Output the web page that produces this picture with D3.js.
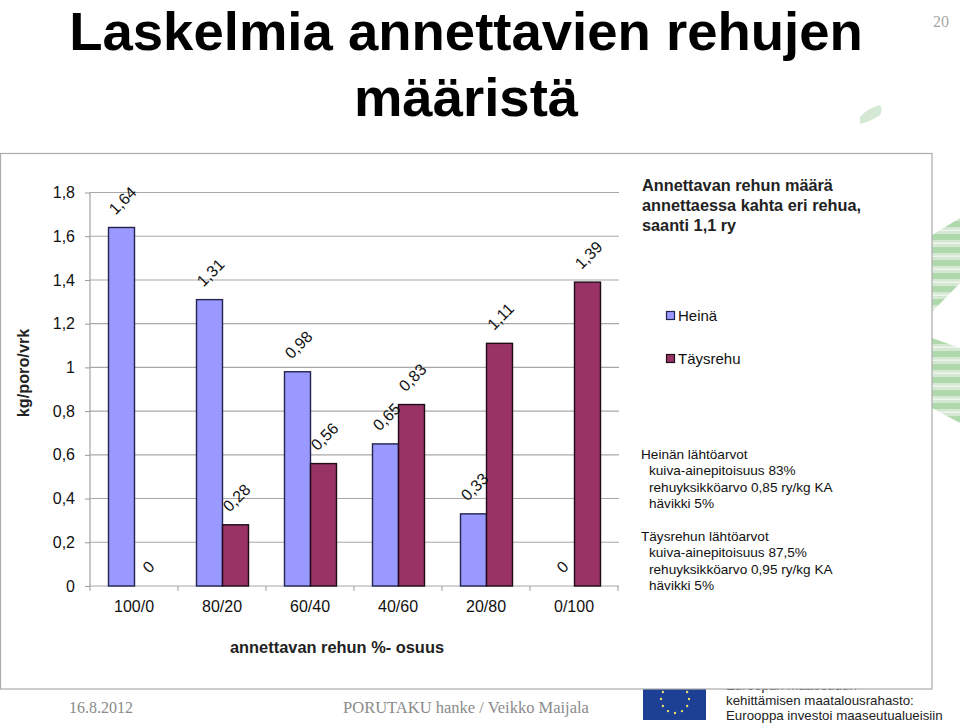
<!DOCTYPE html>
<html><head><meta charset="utf-8">
<script src="https://cdn.jsdelivr.net/npm/d3@7"></script>
<style>html,body{margin:0;padding:0;background:#fff}svg{display:block}text{font-family:"Liberation Sans",Arial,sans-serif}</style>
</head><body><svg id="c" width="960" height="725"></svg>
<script>
const categories=["100/0","80/20","60/40","40/60","20/80","0/100"];
const heina=[1.64,1.31,0.98,0.65,0.33,0];
const taysrehu=[0,0.28,0.56,0.83,1.11,1.39];
const seriesNames=["Heinä","Täysrehu"];
const yTicks=[0,0.2,0.4,0.6,0.8,1,1.2,1.4,1.6,1.8];
const titleLines=["Laskelmia annettavien rehujen","määristä"];
const sideTitle=["Annettavan rehun määrä","annettaessa kahta eri rehua,","saanti 1,1 ry"];
const noteHeina=["Heinän lähtöarvot","kuiva-ainepitoisuus 83%","rehuyksikköarvo 0,85 ry/kg KA","hävikki 5%"];
const noteTays=["Täysrehun lähtöarvot","kuiva-ainepitoisuus 87,5%","rehuyksikköarvo 0,95 ry/kg KA","hävikki 5%"];
const euText=["Euroopan maaseudun","kehittämisen maatalousrahasto:","Eurooppa investoi maaseutualueisiin"];
const colors=["#9999ff","#993366"];
const strokes=["#23234f","#1c0d18"];
const fmt=v=>String(v).replace(".",",");

const svg=d3.select("#c");
const defs=svg.append("defs");
const pat=defs.append("pattern").attr("id","st").attr("patternUnits","userSpaceOnUse").attr("width",10).attr("height",13);
pat.append("rect").attr("width",10).attr("height",13).attr("fill","#d5e8d3");
pat.append("rect").attr("width",10).attr("height",6).attr("fill","#afd8ad");
pat.append("rect").attr("y",8.5).attr("width",10).attr("height",1.5).attr("fill","#eef5ec");

// background decoration
[[[932,235],[960,218],[960,283],[932,312]],[[932,338],[960,348],[960,423],[932,408]]].forEach(p=>
  svg.append("polygon").attr("points",p.join(" ")).attr("fill","url(#st)"));
svg.append("path").attr("d","M860 117Q868 108 880 105Q883 110 880 115Q872 121 860 124Z").attr("fill","#d5e8d3");

// title
svg.append("g").selectAll("text").data(titleLines).join("text")
  .attr("x",466).attr("y",(d,i)=>49.5+i*66.5).attr("text-anchor","middle")
  .attr("font-size",54.5).attr("font-weight","bold").attr("fill","#000").text(d=>d);
svg.append("text").attr("x",941).attr("y",27).attr("text-anchor","middle")
  .style("font-family","'Liberation Serif',serif").attr("font-size",16).attr("fill","#a8a8a8").text("20");

// EU footer
svg.append("rect").attr("x",643).attr("y",685).attr("width",63).attr("height",35).attr("fill","#1d3f94");
d3.range(12).forEach(i=>{const a=i*Math.PI/6;
  svg.append("circle").attr("cx",675+14*Math.cos(a)).attr("cy",699+14*Math.sin(a)).attr("r",1.2).attr("fill","#e8e070");});
svg.append("g").selectAll("text").data(euText).join("text")
  .attr("x",726).attr("y",(d,i)=>689.5+i*15).attr("font-size",13.3).attr("fill","#222").text(d=>d);
svg.append("text").attr("x",69).attr("y",713).style("font-family","'Liberation Serif',serif")
  .attr("font-size",16).attr("fill","#8a8a8a").text("16.8.2012");
svg.append("text").attr("x",466).attr("y",713).attr("text-anchor","middle").style("font-family","'Liberation Serif',serif")
  .attr("font-size",16.5).attr("fill","#8a8a8a").text("PORUTAKU hanke / Veikko Maijala");

// chart frame
svg.append("rect").attr("x",0.5).attr("y",153.5).attr("width",931.5).attr("height",535.5)
  .attr("fill","#fff").attr("stroke","#ababab").attr("stroke-width",1.2);

// scales
const x=d3.scaleBand().domain(categories).range([90,618]);
const inner=d3.scaleBand().domain([0,1]).range([18.5,70.5]);
const y=d3.scaleLinear().domain([0,1.8]).range([586,192.5]);

// grid + y axis
const gy=svg.append("g").attr("transform","translate(90,0)")
  .call(d3.axisLeft(y).tickValues(yTicks).tickSize(5).tickPadding(10).tickFormat(fmt));
gy.select(".domain").attr("stroke","#aaa").attr("stroke-width",1.3).attr("d","M0,192.5V586");
gy.selectAll(".tick line").attr("stroke","#999");
gy.selectAll(".tick text").attr("font-size",16).attr("fill","#111").style("font-family","'Liberation Sans',sans-serif");
svg.append("g").selectAll("line").data(yTicks).join("line")
  .attr("x1",90).attr("x2",619).attr("y1",d=>y(d)).attr("y2",d=>y(d))
  .attr("stroke","#a8a8a8").attr("stroke-width",1.1);

// x axis
const gx=svg.append("g").attr("transform","translate(0,586)")
  .call(d3.axisBottom(x).tickSize(0).tickPadding(15));
gx.select(".domain").remove();
gx.selectAll(".tick text").attr("font-size",16).attr("fill","#111").style("font-family","'Liberation Sans',sans-serif");
svg.append("g").selectAll("line").data(d3.range(7)).join("line")
  .attr("x1",i=>90+i*x.step()).attr("x2",i=>90+i*x.step()).attr("y1",586).attr("y2",591)
  .attr("stroke","#999");

// bars
[heina,taysrehu].forEach((vals,s)=>{
  svg.append("g").selectAll("rect").data(vals).join("rect")
    .attr("x",(d,i)=>x(categories[i])+inner(s)).attr("y",d=>y(d))
    .attr("width",inner.bandwidth()).attr("height",d=>y(0)-y(d))
    .attr("fill",colors[s]).attr("stroke",strokes[s]).attr("stroke-width",1.4);
});
[heina,taysrehu].forEach((vals,s)=>{
  svg.append("g").selectAll("text").data(vals).join("text")
    .attr("transform",(d,i)=>{
      const cx=x(categories[i])+inner(s)+inner.bandwidth()/2+1;
      const cy=y(d)-(d===0?19:27);
      return `translate(${cx},${cy}) rotate(-45)`;})
    .attr("text-anchor","middle").attr("dy","0.35em").attr("font-size",16).attr("fill","#111").text(d=>fmt(d));
});

// axis titles
svg.append("text").attr("transform","translate(29,373) rotate(-90)").attr("text-anchor","middle")
  .attr("font-size",16.3).attr("font-weight","bold").attr("fill","#222").text("kg/poro/vrk");
svg.append("text").attr("x",337).attr("y",653).attr("text-anchor","middle")
  .attr("font-size",16.4).attr("font-weight","bold").attr("fill","#222").text("annettavan rehun %- osuus");

// side text
svg.append("g").selectAll("text").data(sideTitle).join("text")
  .attr("x",642).attr("y",(d,i)=>191+i*20).attr("font-size",16.3).attr("font-weight","bold").attr("fill","#222").text(d=>d);
const legY=[315.5,358.5];
seriesNames.forEach((n,i)=>{
  svg.append("rect").attr("x",666.5).attr("y",legY[i]-4).attr("width",8).attr("height",8)
    .attr("fill",colors[i]).attr("stroke",strokes[i]).attr("stroke-width",1.2);
  svg.append("text").attr("x",678).attr("y",legY[i]+5).attr("font-size",15).attr("fill","#111").text(n);
});
[[noteHeina,459],[noteTays,541]].forEach(([lines,y0])=>{
  svg.append("g").selectAll("text").data(lines).join("text")
    .attr("x",(d,i)=>i?649:641).attr("y",(d,i)=>y0+i*16.3).attr("font-size",13.6).attr("fill","#111").text(d=>d);
});
</script></body></html>
